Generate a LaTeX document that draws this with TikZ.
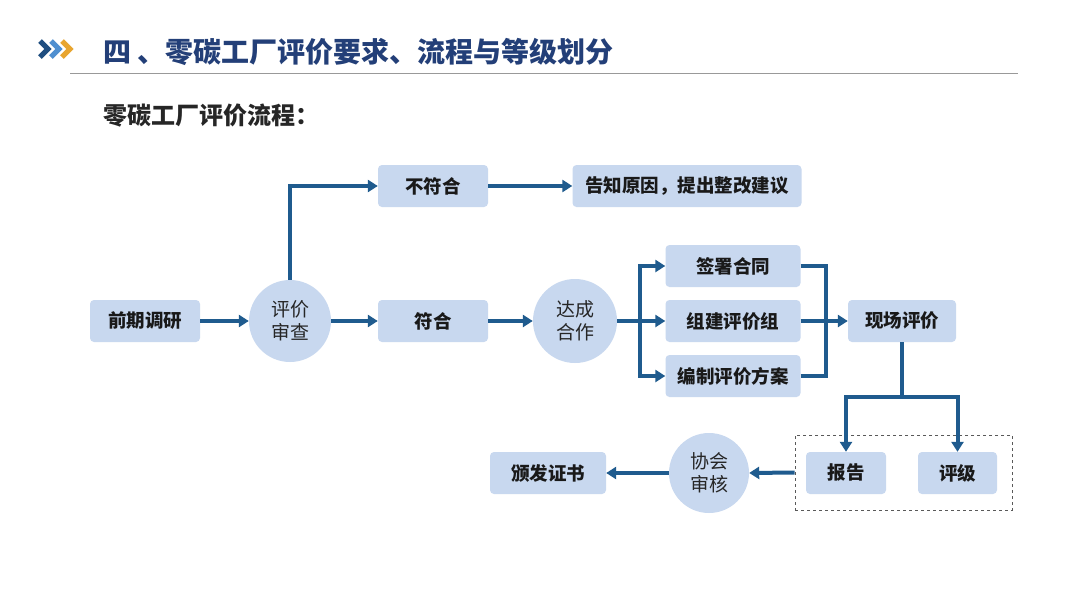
\documentclass[tikz,border=0pt]{standalone}
\usepackage{fontspec}
\setmainfont{Noto Sans CJK SC}
\usetikzlibrary{arrows.meta,positioning,calc}
\definecolor{boxfill}{HTML}{C8D8EF}
\definecolor{arrowc}{HTML}{1F5B8E}
\definecolor{titlec}{HTML}{233F78}
\definecolor{chevd}{HTML}{1F4E80}
\definecolor{chevl}{HTML}{4F8FD0}
\definecolor{chevo}{HTML}{E8A530}
\tikzset{
  bx/.style={fill=boxfill, rounded corners=4pt, minimum height=42pt, inner sep=0pt, font=\fontsize{18.5}{18.5}\selectfont\bfseries, text=black!90},
  circ/.style={circle, fill=boxfill, minimum size=82pt, inner sep=0pt, align=center, font=\fontsize{19}{23}\selectfont, text=black!85},
  conn/.style={draw=arrowc, line width=4pt},
  arr/.style={conn, -{Triangle[length=10pt,width=12pt]}},
  chev/.style={line width=5pt, line cap=butt, line join=miter},
}
\begin{document}
\begin{tikzpicture}[x=1pt,y=-1pt]
\useasboundingbox (0,0) rectangle (1080,608);
\fill[white] (0,0) rectangle (1080,608);
% header
\draw[chev, chevd] (40,41) -- (48,49) -- (40,57);
\draw[chev, chevl] (51,41) -- (59,49) -- (51,57);
\draw[chev, chevo] (62,41) -- (70,49) -- (62,57);
\node[anchor=west, text=titlec, font=\fontsize{28}{28}\selectfont\bfseries, inner sep=0pt] (title) at (103,52) {四 、零碳工厂评价要求、流程与等级划分};
\draw[gray!80, line width=1pt] (70,73) -- (1018,73);
\node[anchor=west, font=\fontsize{24}{24}\selectfont\bfseries, text=black!85, inner sep=0pt] (sub) at (103,116) {零碳工厂评价流程：};
% nodes
\node[bx, minimum width=110pt] (qq) at (145,321) {前期调研};
\node[circ] (ps) at (290,321) {评价\\审查};
\node[bx, minimum width=110pt] (fh) at (433,321) {符合};
\node[bx, minimum width=110pt] (bfh) at (433,186) {不符合};
\node[bx, minimum width=229pt] (gz) at (687,186) {告知原因，提出整改建议};
\node[circ, minimum size=84pt] (dc) at (575,321) {达成\\合作};
\node[bx, minimum width=135pt] (qs) at (733,266) {签署合同};
\node[bx, minimum width=135pt] (zj) at (733,321) {组建评价组};
\node[bx, minimum width=135pt] (bz) at (733,376) {编制评价方案};
\node[bx, minimum width=108pt] (xc) at (902,321) {现场评价};
\node[draw=gray!70!black, dashed, line width=0.8pt, minimum width=217pt, minimum height=75pt, inner sep=0pt] (grp) at (903.5,472.5) {};
\node[bx, minimum width=80pt] (bg) at (846,473) {报告};
\node[bx, minimum width=79pt] (pj) at (957.5,473) {评级};
\node[circ, minimum size=80pt] (xh) at (709,473) {协会\\审核};
\node[bx, minimum width=116pt] (bf) at (548,473) {颁发证书};
% connectors
\draw[arr] (qq) -- (ps);
\draw[arr] (ps.north) |- (bfh.west);
\draw[arr] (bfh) -- (gz);
\draw[arr] (ps) -- (fh);
\draw[arr] (fh) -- (dc);
\coordinate (sp) at (640,321);
\draw[conn] (dc.east) -- (sp);
\draw[arr] (sp) |- (qs.west);
\draw[arr] (sp) -- (zj.west);
\draw[arr] (sp) |- (bz.west);
\coordinate (jn) at (826,321);
\draw[conn] (qs.east) -| (jn);
\draw[conn] (bz.east) -| (jn);
\draw[conn] (zj.east) -- (jn);
\draw[arr] (jn) -- (xc.west);
\coordinate (br) at (902,397);
\draw[conn] (xc.south) -- (br);
\draw[arr] (br) -| (bg.north);
\draw[arr] (br) -| (pj.north);
\draw[arr] (grp.west) -- (xh.east);
\draw[arr] (xh.west) -- (bf.east);
\end{tikzpicture}
\end{document}
